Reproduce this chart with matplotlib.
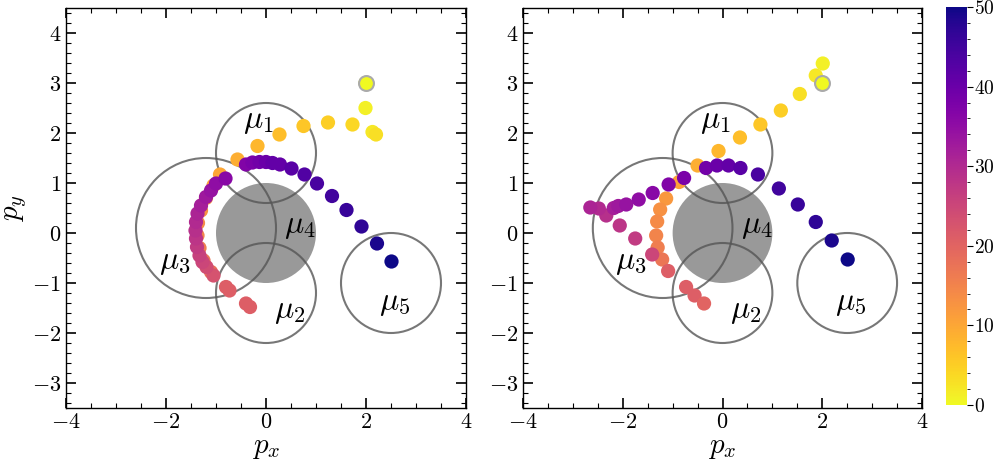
import numpy as np
import matplotlib
matplotlib.use("Agg")
import matplotlib.pyplot as plt
from matplotlib.patches import Circle
from matplotlib.ticker import MultipleLocator

plt.rcParams["mathtext.fontset"] = "cm"
plt.rcParams["font.family"] = "serif"
plt.rcParams["font.serif"] = ["cmr10", "DejaVu Serif"]
plt.rcParams["axes.formatter.use_mathtext"] = True

# ======================================================
# DATA
# ======================================================
# obstacles: (label, cx, cy, radius, filled)
obs_labels = [r"$\mu_1$", r"$\mu_2$", r"$\mu_3$", r"$\mu_4$", r"$\mu_5$"]
obs_cx = [0.0, 0.0, -1.2, 0.0, 2.5]
obs_cy = [1.6, -1.2, 0.1, 0.0, -1.0]
obs_r = [1.0, 1.0, 1.4, 1.0, 1.0]
obs_filled = [False, False, False, True, False]
label_x = [-0.15, 0.47, -1.83, 0.68, 2.57]
label_y = [2.22, -1.58, -0.61, 0.12, -1.43]

start_point = (2.0, 3.0)

# left panel trajectory
left_x = [1.99, 1.99, 2.13, 2.20, 1.73, 1.24, 0.75, 0.27, -0.17, -0.57, -0.92,
          -1.05, -1.20, -1.30, -1.36, -1.37, -1.33, -1.25, -1.10,
          -0.80, -0.73, -0.40, -0.32,
          -1.05, -1.19, -1.27, -1.33, -1.38, -1.40, -1.41, -1.40, -1.37, -1.30,
          -1.20, -1.10, -1.00, -0.81,
          -0.40, -0.27, -0.13, 0.00, 0.13, 0.28, 0.51, 0.77, 1.02, 1.32, 1.61,
          1.91, 2.22, 2.51]
left_y = [3.00, 2.50, 2.02, 1.97, 2.17, 2.21, 2.14, 1.97, 1.74, 1.47, 1.17,
          0.95, 0.70, 0.45, 0.20, -0.05, -0.30, -0.55, -0.78,
          -1.08, -1.15, -1.41, -1.48,
          -0.85, -0.68, -0.58, -0.45, -0.28, -0.11, 0.05, 0.22, 0.39, 0.55,
          0.72, 0.85, 0.99, 1.09,
          1.37, 1.41, 1.42, 1.42, 1.40, 1.37, 1.29, 1.17, 0.99, 0.74, 0.46,
          0.13, -0.21, -0.57]
left_c = [0, 1, 2, 3, 4, 5, 6, 7, 8, 9, 10,
          11, 12, 13, 14, 15, 16, 17, 18,
          21, 21, 21, 21,
          23, 24, 25, 26, 27, 28, 29, 30, 31, 32,
          33, 34, 35, 36,
          37, 38, 39, 40, 41, 41, 42, 43, 44, 45, 46,
          47, 49, 50]

# right panel trajectory
right_x = [2.00, 2.01, 1.87, 1.55, 1.17, 0.76, 0.35, -0.08, -0.50, -0.87,
           -1.13, -1.25, -1.31, -1.33, -1.30, -1.21, -1.09,
           -0.73, -0.56, -0.37,
           -1.41, -1.75, -2.06, -2.33, -2.48, -2.65, -2.18, -2.09, -1.93,
           -1.68, -1.40, -1.08, -0.77,
           -0.33, -0.11, 0.12, 0.36, 0.71, 1.13, 1.51, 1.87, 2.19, 2.51]
right_y = [3.00, 3.39, 3.15, 2.78, 2.45, 2.17, 1.91, 1.64, 1.35, 1.02,
           0.69, 0.47, 0.23, -0.05, -0.29, -0.53, -0.76,
           -1.08, -1.25, -1.41,
           -0.43, -0.11, 0.15, 0.35, 0.49, 0.51, 0.50, 0.54, 0.57,
           0.67, 0.80, 0.97, 1.10,
           1.30, 1.35, 1.35, 1.30, 1.17, 0.89, 0.57, 0.22, -0.15, -0.53]
right_c = [0, 1, 2, 3, 5, 6, 7, 8, 9, 11,
           12, 13, 14, 15, 16, 17, 21,
           21, 21, 20,
           25, 27, 28, 29, 30, 31, 32, 33, 34,
           35, 36, 37, 38,
           39, 40, 41, 42, 44, 45, 46, 47, 49, 50]

panels = [(left_x, left_y, left_c), (right_x, right_y, right_c)]

# ======================================================
# PLOTTING
# ======================================================
fig = plt.figure(figsize=(9.97, 4.70), dpi=100)
W, H = 997.0, 470.0
ax_boxes = [(66, 8, 400, 400), (523, 8, 399, 400)]
axes = [fig.add_axes([x0 / W, 1 - (y0 + h) / H, w / W, h / H]) for x0, y0, w, h in ax_boxes]

cmap = plt.get_cmap("plasma_r")
sc = None
for ax, (tx, ty, tc) in zip(axes, panels):
    for lab, cx, cy, r, filled, lx, ly in zip(obs_labels, obs_cx, obs_cy, obs_r,
                                               obs_filled, label_x, label_y):
        if filled:
            ax.add_patch(Circle((cx, cy), r, facecolor="#999999", edgecolor="none", zorder=1))
        else:
            ax.add_patch(Circle((cx, cy), r, facecolor="none", edgecolor="#555555",
                                alpha=0.8, linewidth=1.5, zorder=2))
        ax.text(lx, ly, lab, fontsize=23, ha="center", va="center", zorder=4)

    sc = ax.scatter(tx, ty, c=tc, cmap=cmap, vmin=0, vmax=50, s=105,
                    edgecolors="none", zorder=3)
    ax.scatter([start_point[0]], [start_point[1]], c=[0], cmap=cmap, vmin=0, vmax=50,
               s=115, edgecolors="#aaaaaa", linewidths=1.5, zorder=3.5)

    ax.set_xlim(-4, 4)
    ax.set_ylim(-3.5, 4.5)
    ax.xaxis.set_major_locator(MultipleLocator(2))
    ax.xaxis.set_minor_locator(MultipleLocator(0.5))
    ax.yaxis.set_major_locator(MultipleLocator(1))
    ax.yaxis.set_minor_locator(MultipleLocator(0.2))
    ax.tick_params(which="both", direction="in", top=True, right=True, labelsize=16)
    ax.tick_params(which="major", length=7, width=1.2)
    ax.tick_params(which="minor", length=3.5, width=0.8)
    for sp in ax.spines.values():
        sp.set_linewidth(1.0)
    ax.set_xlabel(r"$p_x$", fontsize=21, labelpad=2)

axes[0].set_ylabel(r"$p_y$", fontsize=21, labelpad=2)

cax = fig.add_axes([946 / W, 1 - 405 / H, 21 / W, 398 / H])
cb = fig.colorbar(sc, cax=cax)
cb.outline.set_visible(False)
cb.set_ticks([0, 10, 20, 30, 40, 50])
cb.ax.yaxis.set_minor_locator(MultipleLocator(2))
cb.ax.tick_params(which="both", direction="out", labelsize=14, pad=1)
cb.ax.tick_params(which="major", length=4)
cb.ax.tick_params(which="minor", length=2)

fig.savefig("out.png", dpi=100)
plt.close(fig)
